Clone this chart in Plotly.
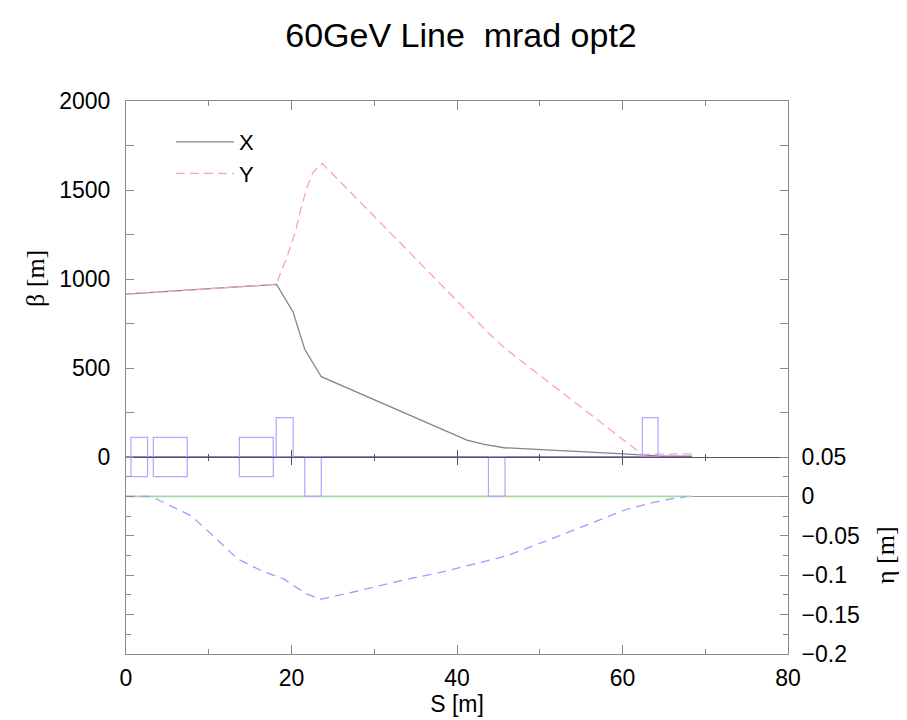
import plotly.graph_objects as go

# ---------------- data ----------------
s_x = [0, 18.2, 20.2, 21.6, 23.6, 41.2, 43.3, 45.7, 60.1, 62.4, 64.3, 68.4]
beta_x = [915, 970, 813, 605, 451, 95, 71, 52, 17, 12, 6, 5]

s_y = [0, 18.2, 18.5, 19.5, 20.5, 21.1, 21.9, 22.6, 23.7, 43.8, 45.8, 62.4, 64.3, 68.4]
beta_y = [915, 970, 1013, 1129, 1270, 1390, 1518, 1600, 1650, 697, 610, 14, 16, 18]

s_eta = [0, 2.7, 3.7, 6.3, 7.85, 10.3, 13.5, 16.3, 19.1, 20.3, 21.9, 23.55, 27.6,
         34.0, 38.0, 43.7, 46.1, 50.9, 56.5, 60.6, 64.6, 67.8]
eta_x = [0, 0, -0.0033, -0.016, -0.0245, -0.0477, -0.0795, -0.094, -0.105, -0.1135,
         -0.124, -0.1305, -0.121, -0.105, -0.0965, -0.0815, -0.075, -0.056, -0.033,
         -0.016, -0.0055, 0]

s_line = [0, 68.4]
eta_y = [0, 0]

mag_start = [0.6, 3.3, 13.7, 18.15, 21.6, 43.8, 62.4]
mag_end = [2.6, 7.4, 17.8, 20.2, 23.6, 45.8, 64.3]
mag_type = ["B", "B", "B", "QF", "QD", "QD", "QF"]

beta_ticks = [0, 500, 1000, 1500, 2000]
beta_minor = [250, 750, 1250, 1750]
eta_ticks = [-0.2, -0.15, -0.1, -0.05, 0, 0.05]
eta_labels = ["\u22120.2", "\u22120.15", "\u22120.1", "\u22120.05", "0", "0.05"]
eta_minor = [-0.175, -0.125, -0.075, -0.025, 0.025]
s_ticks = [0, 20, 40, 60, 80]
s_minor = [10, 30, 50, 70]

# ---------------- geometry (page pixels) ----------------
W, H = 907, 720
OFF = 8  # default body margin of the html page
left, right, top, bottom = 126, 788, 101, 654
mid = 457  # beta = 0  /  eta = 0.05
px_per_beta = (mid - top) / 2000.0
beta_lo = -(bottom - mid) / px_per_beta
px_per_eta = (bottom - mid) / 0.25
eta_hi = 0.05 + (mid - top) / px_per_eta
mid_frac = (bottom - mid) / (bottom - top)


def fx(px):
    return (px - left) / (right - left)


def fy(py):
    return (bottom - py) / (bottom - top)


base = 0.05
half_bend = 0.025
quad_h = 0.05

# magnet outlines in eta units
mx, my = [], []
for a, b, t in zip(mag_start, mag_end, mag_type):
    if t == "B":
        lo, hi = base - half_bend, base + half_bend
    elif t == "QF":
        lo, hi = base, base + quad_h
    else:
        lo, hi = base - quad_h, base
    mx += [a, b, b, a, a, None]
    my += [lo, lo, hi, hi, lo, None]

AX = "#8a8a8a"
SANS = "Liberation Sans, Arial, sans-serif"
SERIF = "Liberation Serif, Times New Roman, serif"
fig = go.Figure()

fig.add_trace(go.Scatter(x=s_line, y=eta_y, mode="lines", yaxis="y2",
                         line=dict(color="#9fdc9f", width=1.6),
                         showlegend=False, hoverinfo="skip"))
fig.add_trace(go.Scatter(x=s_line, y=[base, base], mode="lines", yaxis="y2",
                         line=dict(color="#6a50e6", width=1.5),
                         showlegend=False, hoverinfo="skip"))
fig.add_trace(go.Scatter(x=mx, y=my, mode="lines", yaxis="y2",
                         line=dict(color="#b4a4ff", width=1.2),
                         showlegend=False, hoverinfo="skip"))
fig.add_trace(go.Scatter(x=s_eta, y=eta_x, mode="lines", yaxis="y2",
                         line=dict(color="#a898ff", width=1.3, dash="9px,6px"),
                         showlegend=False, hoverinfo="skip"))
fig.add_trace(go.Scatter(x=s_x, y=beta_x, mode="lines", name="X",
                         line=dict(color="#858585", width=1.3)))
fig.add_trace(go.Scatter(x=s_y, y=beta_y, mode="lines", name="Y",
                         line=dict(color="#ffa3b3", width=1.3, dash="9px,5px")))
# empty traces so that the mid-line axes are realised
fig.add_trace(go.Scatter(x=[], y=[], xaxis="x2", yaxis="y", showlegend=False))
fig.add_trace(go.Scatter(x=[], y=[], xaxis="x3", yaxis="y", showlegend=False))

tickfont = dict(family=SANS, size=23, color="black")

fig.update_layout(
    width=W, height=H,
    margin=dict(l=left - OFF, r=W - (right - OFF), t=top - OFF, b=H - (bottom - OFF), pad=0),
    paper_bgcolor="white", plot_bgcolor="white",
    title=dict(text="60GeV Line  mrad opt2", x=fx(461), xref="paper",
               y=1 - (35 - OFF) / H, yanchor="middle", xanchor="center",
               font=dict(family=SANS, size=34, color="black")),
    font=dict(family=SANS, color="black"),
    legend=dict(x=fx(171), y=fy(121), xanchor="left", yanchor="top",
                bgcolor="rgba(0,0,0,0)", font=dict(size=22, color="black"),
                tracegroupgap=0, itemwidth=58),
    xaxis=dict(range=[0, 80], anchor="y", showline=True, linecolor=AX, linewidth=1,
               mirror="ticks", ticks="inside", tickvals=s_ticks, ticklen=9,
               tickcolor=AX, minor=dict(tickvals=s_minor, ticklen=5, ticks="inside",
                                        tickcolor=AX),
               showgrid=False, zeroline=False, tickfont=tickfont, ticklabelstandoff=3,
               title=dict(text="S [m]", font=dict(size=23), standoff=4)),
    xaxis2=dict(range=[0, 80], overlaying="x", anchor="free", position=mid_frac,
                showline=True, linecolor="#555555", linewidth=1, ticks="outside",
                tickvals=[20, 40, 60], ticklen=7, tickcolor="#555555",
                minor=dict(tickvals=s_minor, ticklen=3, ticks="outside", tickcolor="#555555"),
                showticklabels=False, showgrid=False, zeroline=False),
    xaxis3=dict(range=[0, 80], overlaying="x", anchor="free", position=mid_frac,
                showline=False, ticks="inside",
                tickvals=[20, 40, 60], ticklen=7, tickcolor="#555555",
                minor=dict(tickvals=s_minor, ticklen=3, ticks="inside", tickcolor="#555555"),
                showticklabels=False, showgrid=False, zeroline=False),
    yaxis=dict(range=[beta_lo, 2000], domain=[0, 1], showline=True, linecolor=AX,
               mirror="ticks", ticks="inside", tickvals=beta_ticks, ticklen=8,
               tickcolor=AX, minor=dict(tickvals=beta_minor, ticklen=8, ticks="inside",
                                        tickcolor=AX),
               showgrid=False, zeroline=False, tickfont=tickfont, ticklabelstandoff=10),
    yaxis2=dict(range=[-0.2, eta_hi], overlaying="y", side="right", showline=True,
                linecolor=AX, mirror="ticks", ticks="inside", tickvals=eta_ticks,
                ticktext=eta_labels, ticklen=8, tickcolor=AX,
                minor=dict(tickvals=eta_minor, ticklen=5, ticks="inside", tickcolor=AX),
                showgrid=False, zeroline=True, zerolinecolor="#9a9a9a", zerolinewidth=1,
                tickfont=tickfont, ticklabelstandoff=8),
    annotations=[
        dict(text="\u03b2 [m]", xref="paper", yref="paper", x=fx(35), y=fy(279),
             xanchor="center", yanchor="middle", showarrow=False, textangle=-90,
             font=dict(family=SERIF, size=26)),
        dict(text="\u03b7 [m]", xref="paper", yref="paper", x=fx(885), y=fy(555),
             xanchor="center", yanchor="middle", showarrow=False, textangle=-90,
             font=dict(family=SERIF, size=26)),
    ],
)

fig.write_html("out.html")
